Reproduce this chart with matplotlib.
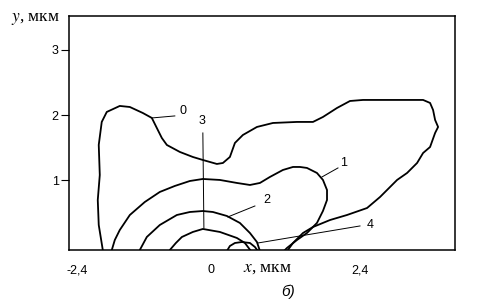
import matplotlib
matplotlib.use("Agg")
import matplotlib.pyplot as plt
import numpy as np

plt.rcParams.update({
    "font.family": "Liberation Sans",
    "font.size": 9,
    "mathtext.fontset": "stix",
})

# ---- data (µm) --------------------------------------------------------------
C0_X = [-1.563, -1.625, -1.640, -1.609, -1.625, -1.579, -1.502, -1.303, -1.149,
        -0.950, -0.812, -0.736, -0.659, -0.582, -0.383, -0.184, -0.031, 0.184,
        0.276, 0.383, 0.460, 0.582, 0.797, 1.042, 1.410, 1.655, 1.808, 2.023,
        2.222, 2.421, 3.341, 3.448, 3.494, 3.525, 3.571, 3.525, 3.448, 3.341,
        3.249, 3.096, 2.943, 2.682, 2.483, 2.176, 1.916, 1.655, 1.502, 1.349, 1.272]
C0_Y = [-0.065, 0.318, 0.701, 1.084, 1.545, 1.897, 2.050, 2.142, 2.126,
        2.034, 1.958, 1.805, 1.651, 1.544, 1.437, 1.360, 1.314, 1.253,
        1.268, 1.360, 1.575, 1.697, 1.820, 1.881, 1.897, 1.897, 1.973, 2.111,
        2.218, 2.234, 2.234, 2.188, 2.080, 1.927, 1.820, 1.728, 1.513, 1.421,
        1.268, 1.115, 1.008, 0.747, 0.578, 0.471, 0.394, 0.287, 0.195, 0.042, -0.065]

C1_X = [-1.425, -1.379, -1.303, -1.149, -0.920, -0.690, -0.460, -0.230, -0.031,
        0.230, 0.490, 0.690, 0.843, 0.996, 1.195, 1.349, 1.456, 1.563, 1.716,
        1.808, 1.870, 1.870, 1.808, 1.716, 1.563, 1.410, 1.257, 1.211]
C1_Y = [-0.065, 0.088, 0.241, 0.471, 0.670, 0.824, 0.916, 0.992, 1.023,
        1.008, 0.962, 0.931, 0.962, 1.054, 1.161, 1.207, 1.207, 1.192, 1.115,
        1.008, 0.854, 0.701, 0.533, 0.349, 0.195, 0.088, -0.034, -0.080]

C2_X = [-0.996, -0.889, -0.690, -0.429, -0.230, -0.031, 0.123, 0.337, 0.536, 0.690, 0.797, 0.843]
C2_Y = [-0.065, 0.134, 0.318, 0.471, 0.517, 0.532, 0.517, 0.456, 0.349, 0.195, 0.057, -0.080]

C3_X = [-0.536, -0.444, -0.352, -0.184, -0.031, 0.230, 0.490, 0.613, 0.705]
C3_Y = [-0.065, 0.042, 0.134, 0.211, 0.257, 0.211, 0.119, 0.042, -0.080]

C4_X = [0.337, 0.383, 0.460, 0.567, 0.690, 0.766, 0.812]
C4_Y = [-0.080, -0.004, 0.042, 0.057, 0.042, -0.019, -0.080]

CURVES = [(C0_X, C0_Y), (C1_X, C1_Y), (C2_X, C2_Y), (C3_X, C3_Y), (C4_X, C4_Y)]

# curve labels: (text, leader start on curve, label position)
LABELS = ["0", "1", "2", "3", "4"]
LEAD_FROM = [(-0.812, 1.958), (1.793, 1.054), (0.352, 0.441), (-0.015, 0.272), (0.812, 0.042)]
LEAD_TO = [(-0.460, 1.989), (2.038, 1.192), (0.766, 0.609), (-0.031, 1.728), (2.375, 0.303)]
LABEL_POS = [(-0.383, 2.065), (2.069, 1.268), (0.889, 0.701), (-0.046, 1.820), (2.483, 0.318)]

X_TICK_POS = [-1.954, 0.092, 2.375]
X_TICK_LAB = ["-2,4", "0", "2,4"]
Y_TICKS = [1, 2, 3]

# ---- figure ------------------------------------------------------------------
fig = plt.figure(figsize=(4.81, 3.08), dpi=100)
ax = fig.add_axes([0.1435, 0.1867, 0.8025, 0.7613])

for cx, cy in CURVES:
    ax.plot(cx, cy, color="black", lw=1.3, solid_joinstyle="round",
            solid_capstyle="round")

for lab, p0, p1, pl in zip(LABELS, LEAD_FROM, LEAD_TO, LABEL_POS):
    ax.plot([p0[0], p1[0]], [p0[1], p1[1]], color="black", lw=0.7)
    ax.text(pl[0], pl[1], lab, ha="left" if lab != "3" else "center",
            va="center" if lab != "3" else "bottom", fontsize=9)

ax.set_xlim(-2.08, 3.83)
ax.set_ylim(-0.073, 3.52)

ax.set_yticks(Y_TICKS)
ax.set_yticklabels([str(v) for v in Y_TICKS])
ax.set_xticks(X_TICK_POS)
ax.set_xticklabels(X_TICK_LAB)
ax.tick_params(axis="y", direction="out", length=5.5, width=0.8, pad=2, labelsize=9)
ax.tick_params(axis="x", length=0, pad=10, labelsize=9)
for sp in ax.spines.values():
    sp.set_linewidth(1.1)

ax.text(0.58, -0.34, r"$x$, мкм", family="Liberation Serif", fontsize=12.5,
        ha="left", va="center", clip_on=False)
ax.text(-2.22, 3.475, r"$y$, мкм", family="Liberation Serif", fontsize=12.5,
        ha="right", va="center", clip_on=False)
ax.text(1.272, -0.709, "б)", fontstyle="italic", fontsize=11,
        ha="center", va="center", clip_on=False)

fig.savefig("out.png", dpi=100)
